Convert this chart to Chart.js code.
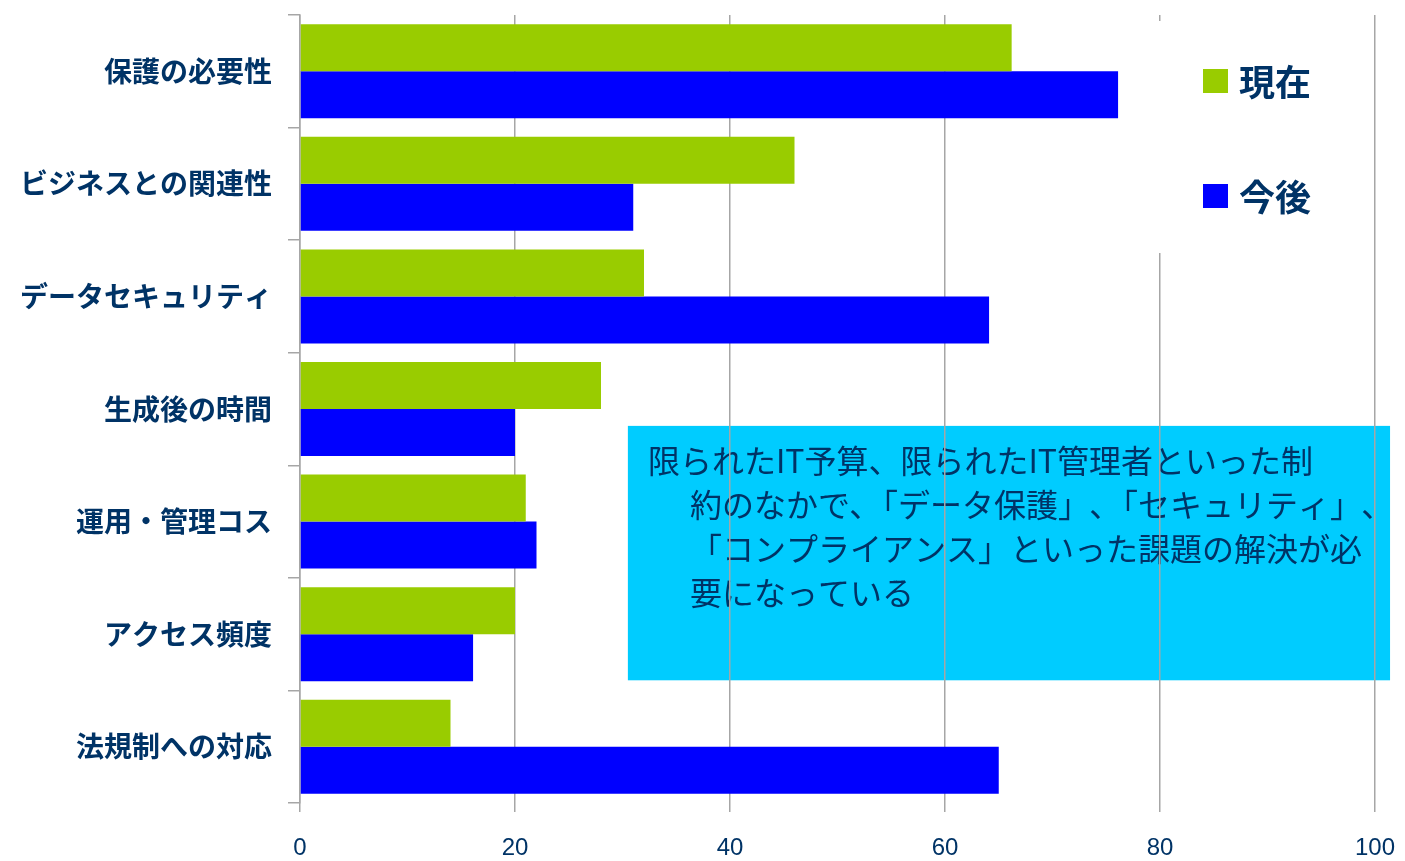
<!DOCTYPE html>
<html>
<head>
<meta charset="utf-8">
<script src="https://cdn.jsdelivr.net/npm/chart.js@4"></script>
<style>
    html, body { margin: 0; padding: 0; background: #fff; }
    #wrap { width: 1405px; height: 861px; position: relative; }
</style>
</head>
<body>
<div id="wrap"><canvas id="c"></canvas></div>
<script>
const categories = ['保護の必要性', 'ビジネスとの関連性', 'データセキュリティ', '生成後の時間', '運用・管理コス', 'アクセス頻度', '法規制への対応'];
const seriesNames = ['現在', '今後'];
const nowValues = [66.2, 46, 32, 28, 21, 20, 14];
const futureValues = [76.1, 31, 64.1, 20, 22, 16.1, 65];
const xTicks = [0, 20, 40, 60, 80, 100];
const noteLines = [
    '限られたIT予算、限られたIT管理者といった制',
    '約のなかで､「データ保護」､「セキュリティ」､',
    '「コンプライアンス」といった課題の解決が必',
    '要になっている',
];

const TEXT = '#003366';
const GRID = '#a6a6a6';
const COLORS = ['#99cc00', '#0000ff'];
const JP = '"Noto Sans CJK JP", "Noto Sans", sans-serif';

// 注釈ボックス: グリッド線の下に描く
const notePlugin = {
    id: 'note',
    beforeDraw(chart) {
        const { ctx, scales: { x, y } } = chart;
        const left = x.getPixelForValue(30.5);
        const right = x.getPixelForValue(101.4);
        const top = y.getPixelForValue(3.15);
        const bottom = y.getPixelForValue(5.41);
        ctx.save();
        ctx.fillStyle = '#00ccff';
        ctx.fillRect(left, top, right - left, bottom - top);
        ctx.fillStyle = TEXT;
        ctx.font = `32px ${JP}`;
        ctx.textBaseline = 'middle';
        noteLines.forEach((t, i) => {
            ctx.fillText(t, left + (i === 0 ? 20 : 62), top + 35 + i * 44);
        });
        ctx.restore();
    },
};

// 凡例: 白背景で80のグリッド線を隠す
const legendPlugin = {
    id: 'sideLegend',
    afterDraw(chart) {
        const { ctx, scales: { x } } = chart;
        const left = x.getPixelForValue(79.4);
        ctx.save();
        ctx.fillStyle = '#fff';
        ctx.fillRect(left, 21, x.getPixelForValue(99.6) - left, 232);
        ctx.font = `bold 36px ${JP}`;
        ctx.textBaseline = 'middle';
        seriesNames.forEach((name, i) => {
            const cy = 81 + i * 115;
            ctx.fillStyle = COLORS[i];
            ctx.fillRect(1203, cy - 12, 25, 24);
            ctx.fillStyle = TEXT;
            ctx.fillText(name, 1239, cy + 1);
        });
        ctx.restore();
    },
};

new Chart(document.getElementById('c'), {
    type: 'bar',
    data: {
        labels: categories,
        datasets: [
            { label: seriesNames[0], data: nowValues, backgroundColor: COLORS[0] },
            { label: seriesNames[1], data: futureValues, backgroundColor: COLORS[1] },
        ],
    },
    options: {
        indexAxis: 'y',
        responsive: true,
        maintainAspectRatio: false,
        animation: false,
        layout: { padding: { top: 15, right: 30, left: 0, bottom: 0 } },
        datasets: { bar: { categoryPercentage: 0.835, barPercentage: 1 } },
        plugins: { legend: { display: false }, tooltip: { enabled: false } },
        scales: {
            x: {
                min: 0, max: 100,
                afterBuildTicks: (s) => { s.ticks = xTicks.map((v) => ({ value: v })); },
                afterFit: (s) => { s.height = 58; s.paddingLeft = 0; s.paddingRight = 0; },
                border: { display: false },
                grid: { color: GRID, lineWidth: 1.5, tickLength: 9 },
                ticks: { color: TEXT, padding: 22, font: { family: '"Liberation Sans Narrow", "Liberation Sans", sans-serif', size: 24 } },
            },
            y: {
                afterFit: (s) => { s.width = 300; s.paddingTop = 0; s.paddingBottom = 0; },
                border: { color: GRID, width: 1.5 },
                grid: { drawOnChartArea: false, color: GRID, lineWidth: 1.5, tickLength: 12 },
                ticks: { color: TEXT, padding: 16, font: { family: JP, size: 28, weight: 'bold' } },
            },
        },
    },
    plugins: [notePlugin, legendPlugin],
});
</script>
</body>
</html>
